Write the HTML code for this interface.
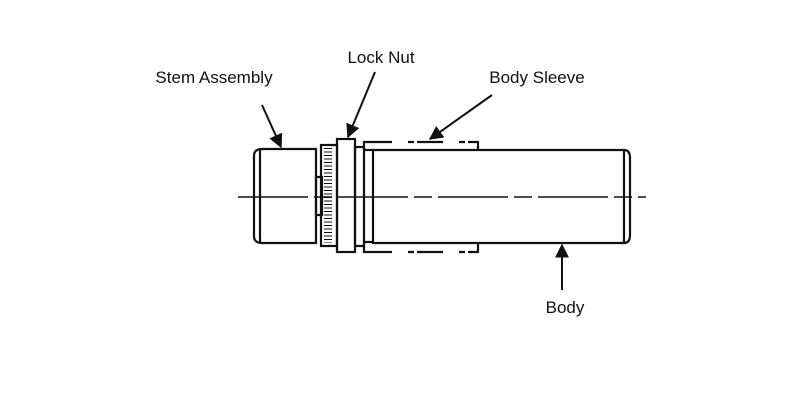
<!DOCTYPE html>
<html><head><style>body{margin:0;background:#fff}svg{display:block}</style></head><body>
<svg width="800" height="418" viewBox="0 0 800 418" xmlns="http://www.w3.org/2000/svg" font-family="Liberation Sans, sans-serif" font-size="17" fill="none" stroke="#111">
<defs><marker id="a" viewBox="0 0 10 10" refX="9" refY="5" markerWidth="7" markerHeight="7" orient="auto"><path d="M0,0 L10,5 L0,10 z" fill="#111" stroke="none"/></marker></defs>
<g stroke-width="2.2">
<path d="M262,149 L316,149 L316,243 L262,243 Q254,243 254,236 L254,156 Q254,149 262,149 Z"/>
<line x1="260" y1="150" x2="260" y2="242"/>
<rect x="316" y="177" width="6" height="38"/>
<rect x="321" y="145" width="16" height="101"/>
<rect x="337" y="139" width="18" height="113"/>
<rect x="355" y="147" width="9" height="99"/>
<line x1="364" y1="150" x2="373" y2="150"/><line x1="364" y1="242" x2="373" y2="242"/>
<path d="M373,150 L624,150 Q630,150 630,158 L630,235 Q630,243 624,243 L373,243 Z"/>
<line x1="624" y1="151" x2="624" y2="242"/>
<path d="M364,150 L364,142 L478,142 L478,150"/>
<path d="M364,242 L364,252 L478,252 L478,243"/>
</g>
<line x1="328" y1="148" x2="328" y2="243" stroke-dasharray="1 2.5" stroke-width="8"/>
<line x1="372" y1="142" x2="478" y2="142" stroke="#fff" stroke-width="3" stroke-dasharray="0 20 16 6 3 6" />
<line x1="372" y1="252" x2="478" y2="252" stroke="#fff" stroke-width="3" stroke-dasharray="0 20 16 6 3 6"/>
<line x1="238" y1="197" x2="646" y2="197" stroke-width="1.4" stroke-dasharray="70 6 18 6"/>
<g stroke-width="2" marker-end="url(#a)">
<line x1="262" y1="105" x2="281" y2="147"/>
<line x1="375" y1="72" x2="348" y2="137"/>
<line x1="492" y1="95" x2="430" y2="139"/>
<line x1="562" y1="290" x2="562" y2="245"/>
</g>
<g fill="#111" stroke="none" text-anchor="middle">
<text x="214" y="83">Stem Assembly</text>
<text x="381" y="63">Lock Nut</text>
<text x="537" y="83">Body Sleeve</text>
<text x="565" y="313">Body</text>
</g>
</svg>
</body></html>
